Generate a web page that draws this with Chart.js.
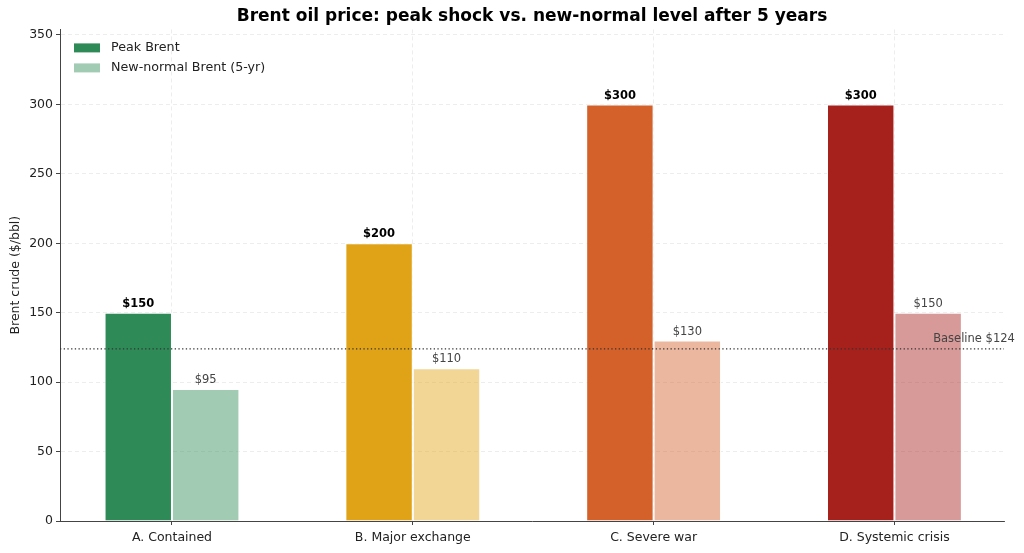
<!DOCTYPE html>
<html>
<head>
<meta charset="utf-8">
<script src="https://cdn.jsdelivr.net/npm/chart.js@4/dist/chart.umd.min.js"></script>
<style>
  html, body { margin: 0; padding: 0; background: #ffffff; }
  #wrap { width: 1024px; height: 553px; }
</style>
</head>
<body>
<div id="wrap"><canvas id="c" width="1024" height="553"></canvas></div>
<script>
const categories = ['A. Contained', 'B. Major exchange', 'C. Severe war', 'D. Systemic crisis'];
const peakBrent = [150, 200, 300, 300];
const newNormalBrent = [95, 110, 130, 150];
const baselineBrent = 124;
const seriesNames = ['Peak Brent', 'New-normal Brent (5-yr)'];
const chartTitle = 'Brent oil price: peak shock vs. new-normal level after 5 years';
const yTickValues = [0, 50, 100, 150, 200, 250, 300, 350];
const scenarioColors = [[46, 139, 87], [224, 163, 23], [212, 96, 42], [166, 32, 28]];

const FONT = "'DejaVu Sans', 'Liberation Sans', sans-serif";
const solid = c => `rgb(${c[0]},${c[1]},${c[2]})`;
const faded = c => `rgba(${c[0]},${c[1]},${c[2]},0.45)`;

const overlay = {
  id: 'overlay',
  afterDatasetsDraw(chart) {
    const ctx = chart.ctx;
    const area = chart.chartArea;
    const ys = chart.scales.y;
    const xs = chart.scales.x;
    ctx.save();
    // title centred over the axes
    ctx.font = `bold 17px ${FONT}`;
    ctx.fillStyle = '#000000';
    ctx.textAlign = 'center';
    ctx.textBaseline = 'middle';
    ctx.fillText(chartTitle, (area.left + area.right) / 2, 16.5);

    // baseline dotted line
    const by = ys.getPixelForValue(baselineBrent);
    ctx.strokeStyle = '#333333';
    ctx.lineWidth = 1.2;
    ctx.setLineDash([1.3, 2.4]);
    ctx.beginPath();
    ctx.moveTo(area.left, by);
    ctx.lineTo(area.right, by);
    ctx.stroke();
    ctx.setLineDash([]);
    ctx.font = `11.5px ${FONT}`;
    ctx.fillStyle = '#444444';
    ctx.textAlign = 'right';
    ctx.textBaseline = 'bottom';
    ctx.fillText(`Baseline $${baselineBrent}`, xs.getPixelForValue(3.5), by - 4);

    // value labels
    ctx.textAlign = 'center';
    ctx.textBaseline = 'bottom';
    chart.getDatasetMeta(0).data.forEach((bar, i) => {
      ctx.font = `bold 11.5px ${FONT}`;
      ctx.fillStyle = '#000000';
      ctx.fillText(`$${peakBrent[i]}`, bar.x, bar.y - 3);
    });
    chart.getDatasetMeta(1).data.forEach((bar, i) => {
      ctx.font = `11.5px ${FONT}`;
      ctx.fillStyle = '#444444';
      ctx.fillText(`$${newNormalBrent[i]}`, bar.x, bar.y - 3);
    });

    // legend (frameless, upper-left inside axes)
    const lx = area.left + 14;
    let ly = area.top + 18;
    const fills = [solid(scenarioColors[0]), faded(scenarioColors[0])];
    ctx.font = `12.7px ${FONT}`;
    ctx.textAlign = 'left';
    ctx.textBaseline = 'middle';
    seriesNames.forEach((name, k) => {
      ctx.fillStyle = fills[k];
      ctx.fillRect(lx, ly - 4, 26, 9);
      ctx.fillStyle = '#222222';
      ctx.fillText(name, lx + 37, ly + 0.5);
      ly += 20;
    });
    ctx.restore();
  }
};

new Chart(document.getElementById('c'), {
  type: 'bar',
  data: {
    datasets: [
      {
        label: seriesNames[0],
        data: peakBrent.map((v, i) => ({ x: i, y: v })),
        backgroundColor: scenarioColors.map(solid),
        borderColor: '#ffffff',
        borderWidth: 1
      },
      {
        label: seriesNames[1],
        data: newNormalBrent.map((v, i) => ({ x: i, y: v })),
        backgroundColor: scenarioColors.map(faded),
        borderColor: '#ffffff',
        borderWidth: 1
      }
    ]
  },
  options: {
    responsive: false,
    animation: false,
    devicePixelRatio: 1,
    categoryPercentage: 0.56,
    barPercentage: 1.0,
    layout: { padding: { left: 0, right: 20, top: 29.4, bottom: 0 } },
    plugins: {
      legend: { display: false },
      tooltip: { enabled: false },
      title: { display: false }
    },
    scales: {
      x: {
        type: 'linear',
        offset: false,
        min: -0.465,
        max: 3.455,
        afterBuildTicks: s => { s.ticks = categories.map((_, i) => ({ value: i })); },
        afterFit: s => { s.height = 32; },
        ticks: {
          callback: v => categories[v] !== undefined ? categories[v] : '',
          color: '#222222',
          font: { family: FONT, size: 12.5 },
          padding: 5,
          maxRotation: 0,
          autoSkip: false
        },
        grid: {
          offset: false,
          color: 'rgba(0,0,0,0.09)',
          lineWidth: 0.8,
          tickColor: '#444444',
          tickLength: 4,
          tickWidth: 1
        },
        border: { display: true, color: '#444444', width: 1, dash: [4, 3] }
      },
      y: {
        min: 0,
        max: 354,
        afterBuildTicks: s => { s.ticks = yTickValues.map(v => ({ value: v })); },
        afterFit: s => { s.width = 60; },
        ticks: {
          color: '#222222',
          font: { family: FONT, size: 12.5 },
          padding: 3
        },
        grid: {
          color: 'rgba(0,0,0,0.09)',
          lineWidth: 0.8,
          tickColor: '#444444',
          tickLength: 4,
          tickWidth: 1
        },
        border: { display: true, color: '#444444', width: 1, dash: [4, 3] },
        title: {
          display: true,
          text: 'Brent crude ($/bbl)',
          color: '#222222',
          font: { family: FONT, size: 12.5 },
          padding: { top: 8, bottom: 0 }
        }
      }
    }
  },
  plugins: [overlay]
});
</script>
</body>
</html>
